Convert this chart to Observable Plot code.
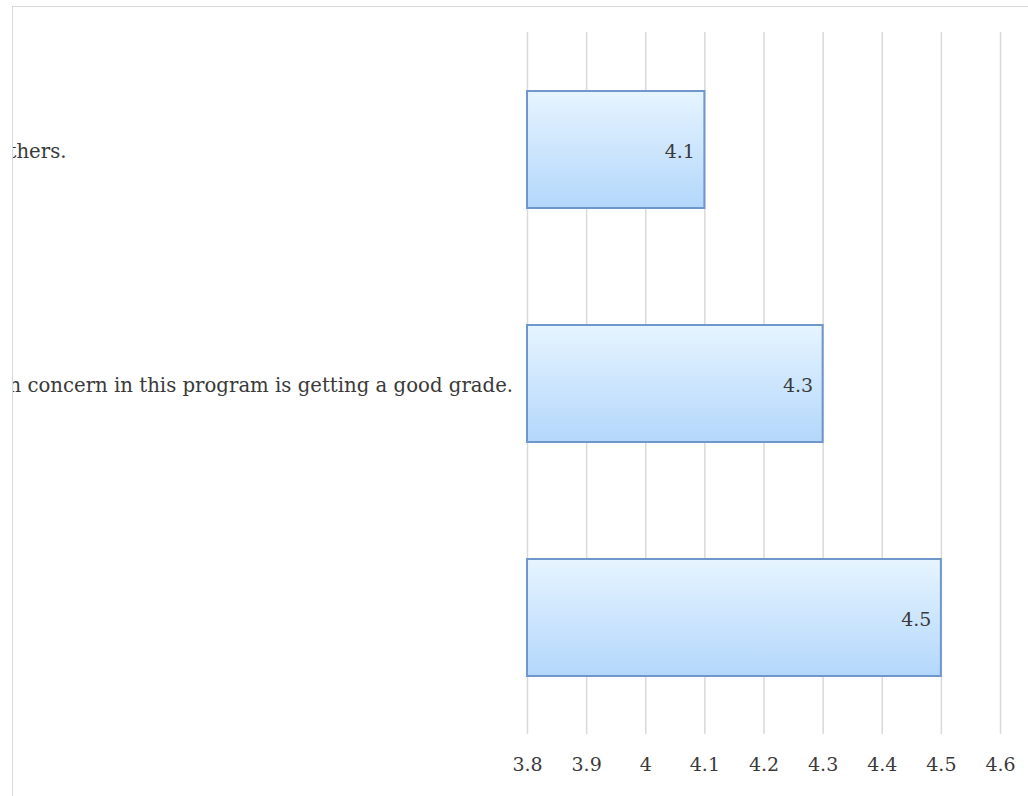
<!DOCTYPE html>
<html>
<head>
<meta charset="utf-8">
<script src="https://cdn.jsdelivr.net/npm/d3@7"></script>
<script src="https://cdn.jsdelivr.net/npm/@observablehq/plot@0.6"></script>
<style>
  html, body { margin: 0; padding: 0; background: #fff; }
  #page { position: relative; width: 1028px; height: 796px; overflow: hidden; background: #fff; }
  #frame { position: absolute; left: 12px; top: 6px; width: 1016px; height: 790px;
           border-left: 1px solid #d9d9d9; border-top: 1px solid #d9d9d9; overflow: hidden; }
  #chart { position: absolute; left: -13px; top: -7px; }
</style>
</head>
<body>
<div id="page"><div id="frame"><div id="chart"></div></div></div>
<script>
const categories = ["thers.", "n concern in this program is getting a good grade.", ""];
const values = [4.1, 4.3, 4.5];
const xTicks = [3.8, 3.9, 4, 4.1, 4.2, 4.3, 4.4, 4.5, 4.6];
const xStart = 3.8;

const data = categories.map((c, i) => ({cat: c, value: values[i]}));

const chart = Plot.plot({
  width: 1028,
  height: 796,
  marginLeft: 527,
  marginRight: 28,
  marginTop: 32,
  marginBottom: 62,
  style: {fontFamily: "'DejaVu Serif', serif", fontSize: "19px", color: "#3a3a3a", background: "transparent", overflow: "visible"},
  x: {domain: [3.8, 4.6], ticks: xTicks, label: null},
  y: {domain: categories, paddingInner: 0.5, paddingOuter: 0.25, axis: null},
  marks: [
    Plot.gridX(xTicks, {stroke: "#d9d9d9", strokeOpacity: 1, strokeWidth: 1.5}),
    Plot.axisX({ticks: xTicks, tickSize: 0, tickPadding: 23, label: null, tickFormat: d => String(d), fontSize: 19, fill: "#3a3a3a"}),
    Plot.barX(data, {x1: () => xStart, x2: "value", y: "cat", fill: "url(#barGrad)", stroke: "#6f97cc", strokeWidth: 2}),
    Plot.text(data, {x: "value", y: "cat", text: d => String(d.value), textAnchor: "end", dx: -10, dy: 2, fontSize: 19, fill: "#3a3a3a"}),
    Plot.text(data, {y: "cat", text: "cat", frameAnchor: "left", textAnchor: "start", dx: -519, dy: 2, fontSize: 19.7, fill: "#3a3a3a"})
  ]
});

const defs = d3.select(chart).insert("defs", ":first-child");
const g = defs.append("linearGradient").attr("id", "barGrad").attr("x1", 0).attr("y1", 0).attr("x2", 0).attr("y2", 1);
g.append("stop").attr("offset", "0%").attr("stop-color", "#e6f4ff");
g.append("stop").attr("offset", "100%").attr("stop-color", "#b3d7fb");

document.getElementById("chart").appendChild(chart);
</script>
</body>
</html>
